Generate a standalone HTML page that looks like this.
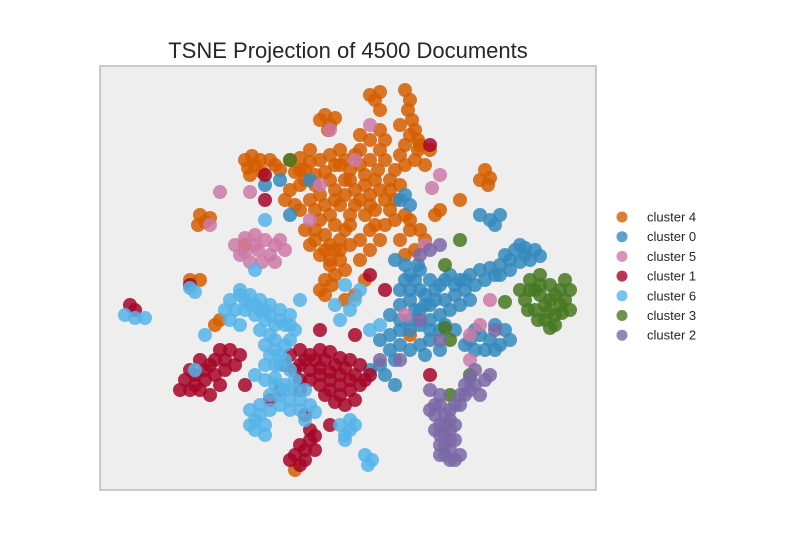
<!DOCTYPE html>
<html><head><meta charset="utf-8"><style>
body{margin:0;background:#fff;}
svg{display:block;font-family:"Liberation Sans",sans-serif;}
</style></head><body>
<svg id="chart" width="800" height="550" viewBox="0 0 800 550">
<rect x="0" y="0" width="800" height="550" fill="#fff"/>
<text x="348" y="58" text-anchor="middle" font-size="22" fill="#262626">TSNE Projection of 4500 Documents</text>
<rect x="100" y="66" width="496" height="424" fill="#eeeeee" stroke="#bcbcbc" stroke-width="1.5"/>
<g id="points"></g>
<g id="legend"></g>
</svg>
<script>
const clusterNames = ["cluster 4","cluster 0","cluster 5","cluster 1","cluster 6","cluster 3","cluster 2"];
const clusterColors = ["#D55E00","#348ABD","#CC79A7","#A60628","#56B4E9","#467821","#7A68A6"];
const cluster4 = [[270,29],[280,26],[275,34],[310,34],[308,44],[312,54],[315,64],[318,74],[310,69],[305,79],[220,54],[225,49],[230,59],[235,52],[228,64],[145,94],[155,99],[150,109],[162,106],[148,102],[190,94],[200,92],[210,96],[220,94],[205,104],[195,106],[215,109],[225,106],[235,99],[230,89],[240,84],[245,94],[250,104],[260,99],[255,89],[265,109],[270,94],[280,84],[285,94],[278,104],[290,114],[295,104],[300,89],[305,99],[315,94],[325,99],[330,84],[320,79],[245,114],[255,124],[265,119],[260,134],[270,129],[280,124],[285,134],[275,144],[290,144],[295,154],[285,159],[265,149],[255,139],[245,129],[210,134],[220,129],[225,139],[215,144],[230,149],[220,154],[235,159],[225,169],[215,174],[230,179],[220,189],[235,184],[240,174],[210,179],[200,119],[190,124],[185,134],[195,139],[100,149],[105,156],[98,159],[110,152],[230,199],[225,214],[220,224],[235,209],[300,174],[310,164],[320,164],[325,174],[315,184],[305,189],[335,149],[340,144],[385,104],[390,112],[380,114],[388,119],[360,134],[145,179],[260,194],[270,184],[280,174],[245,204],[255,229],[265,214],[245,234],[90,214],[100,214],[120,254],[115,259],[280,64],[285,74],[270,74],[260,69],[195,404],[310,269],
[280,44],[300,59],[290,124],[300,119],[270,139],[250,149],[240,139],[235,124],[230,114],[205,114],[215,119],[250,114],[260,84],[240,99],[210,84],[200,104],[180,104],[170,94],[175,99],[275,114],[295,134],[305,149],[310,154],[215,164],[230,194],[240,194],[250,159],[245,164],[160,94],[152,90],[225,229],[232,219],[305,24],[318,84],[235,134],[275,159],[270,164],[260,174],[250,179],[240,184],[225,184],[205,164],[200,144]];
const cluster0 = [[295,194],[305,199],[310,209],[320,204],[330,214],[340,219],[350,209],[360,214],[370,209],[380,204],[390,202],[400,199],[405,189],[415,184],[425,182],[435,184],[430,194],[420,196],[410,204],[400,209],[420,179],[380,149],[390,154],[395,159],[400,149],[320,224],[310,234],[300,239],[315,244],[325,239],[335,234],[330,254],[340,249],[350,244],[360,239],[365,224],[355,229],[370,234],[345,259],[320,259],[310,254],[300,254],[290,249],[355,264],[370,274],[380,269],[390,274],[400,279],[410,274],[405,264],[395,259],[385,284],[290,269],[300,279],[310,284],[320,279],[330,274],[340,284],[325,289],[280,274],[290,284],[295,294],[300,134],[310,139],[305,129],[280,299],[285,309],[210,114],[165,119],[190,149],[295,319],[270,304],[180,114],[318,199],
[345,214],[355,219],[365,214],[335,224],[345,234],[325,229],[315,214],[305,214],[300,224],[310,224],[330,239],[320,244],[375,219],[385,214],[395,209],[365,279],[375,284],[395,284],[375,264],[310,264],[300,264],[330,264],[340,264],[440,190],[410,194],[425,189]];
const cluster5 = [[135,179],[145,172],[155,169],[165,174],[175,179],[185,184],[170,189],[158,184],[145,186],[150,196],[162,196],[175,196],[140,189],[155,179],[180,174],[150,126],[120,126],[230,64],[255,94],[270,59],[340,109],[332,122],[210,154],[325,179],[305,249],[390,234],[380,259],[370,269],[370,294],[110,159],[220,119]];
const cluster1 = [[85,314],[90,324],[95,309],[105,304],[115,294],[120,284],[130,284],[140,289],[135,299],[125,304],[115,309],[105,314],[100,324],[110,329],[120,319],[90,304],[190,289],[200,284],[210,289],[220,284],[230,286],[240,292],[250,294],[260,299],[200,299],[210,304],[220,302],[230,306],[240,309],[250,314],[230,324],[240,329],[220,319],[260,319],[255,334],[245,339],[270,309],[200,314],[195,389],[200,379],[210,374],[215,384],[205,394],[200,399],[210,364],[30,239],[35,244],[90,219],[165,109],[330,79],[270,209],[285,224],[220,264],[230,359],[205,349],[170,334],[180,324],[330,309],[145,319],[165,134],[255,269],
[205,294],[215,294],[225,294],[235,299],[245,302],[255,309],[265,314],[210,314],[220,309],[230,314],[240,319],[250,324],[225,329],[235,336],[200,324],[195,304],[185,299],[100,294],[110,299],[125,294],[95,319],[80,324],[205,384],[190,394],[215,370]];
const cluster6 = [[25,249],[35,252],[45,252],[90,222],[95,226],[125,244],[130,234],[140,224],[150,229],[160,234],[170,239],[180,244],[190,249],[145,244],[155,249],[165,254],[175,259],[185,259],[195,264],[140,259],[130,254],[160,264],[170,269],[200,234],[165,279],[170,289],[175,284],[185,279],[190,274],[155,309],[165,314],[175,312],[185,319],[195,314],[205,324],[200,334],[190,334],[180,329],[170,329],[200,344],[210,339],[215,346],[150,344],[160,339],[170,344],[155,354],[165,359],[150,359],[160,349],[240,359],[250,364],[245,369],[255,359],[265,389],[272,394],[268,399],[240,254],[250,244],[255,234],[260,224],[245,219],[235,239],[280,259],[270,264],[165,154],[155,204],[105,269],[95,304],[180,299],[140,229],
[150,239],[160,244],[170,249],[180,254],[190,259],[145,234],[155,239],[135,244],[165,244],[175,274],[180,289],[185,294],[175,299],[165,299],[190,304],[175,319],[185,324],[195,324],[190,344],[180,339],[165,369],[155,364],[205,354],[245,374],[250,354]];
const cluster3 = [[430,214],[440,209],[450,219],[460,224],[465,234],[470,244],[455,249],[445,254],[435,244],[425,234],[440,229],[450,234],[460,239],[445,239],[435,224],[455,259],[465,214],[440,219],[448,246],[190,94],[360,174],[345,199],[350,274],[370,309],[350,329],[405,236],[345,262],
[430,224],[455,229],[462,247],[438,254],[450,262],[420,224],[470,224],[428,244]];
const cluster2 = [[340,329],[340,339],[345,349],[350,354],[340,359],[345,369],[340,379],[350,384],[355,374],[335,364],[330,344],[355,339],[360,329],[365,319],[370,312],[380,329],[385,314],[390,309],[375,304],[330,324],[350,394],[360,389],[345,389],[355,359],[330,184],[340,179],[320,189],[320,254],[300,294],[280,294],[340,274],[395,264],
[345,359],[335,349],[350,364],[340,369],[350,374],[345,379],[335,339],[360,339],[350,344],[340,389],[355,394],[375,319],[365,329],[370,324]];
const clusterData = [cluster4,cluster0,cluster5,cluster1,cluster6,cluster3,cluster2];

const xDomain=[0,496], yDomain=[0,424];
function xScale(v){return 100 + (v-xDomain[0])/(xDomain[1]-xDomain[0])*496;}
function yScale(v){return 66 + (v-yDomain[0])/(yDomain[1]-yDomain[0])*424;}
const NS="http://www.w3.org/2000/svg";
const pg=document.getElementById('points');
clusterData.forEach((pts,ci)=>{
  const g=document.createElementNS(NS,'g');
  
  
  pts.forEach(p=>{
    const c=document.createElementNS(NS,'circle');
    
    
    c.setAttribute('cx',xScale(p[0]));
    c.setAttribute('cy',yScale(p[1]));
    c.setAttribute('r',7);
    c.setAttribute('fill',clusterColors[ci]);
    c.setAttribute('fill-opacity',0.85);
    g.appendChild(c);
  });
  pg.appendChild(g);
});
const lg=document.getElementById('legend');
clusterNames.forEach((n,i)=>{
  const y=217+i*19.7;
  const c=document.createElementNS(NS,'circle');
  
  
  c.setAttribute('cx',622);c.setAttribute('cy',y);c.setAttribute('r',5.5);
  c.setAttribute('fill',clusterColors[i]);c.setAttribute('fill-opacity',0.8);
  lg.appendChild(c);
  const t=document.createElementNS(NS,'text');
  
  
  t.setAttribute('x',647);t.setAttribute('y',y+4.5);
  t.setAttribute('font-size','13');t.setAttribute('fill','#262626');
  t.textContent=n;
  lg.appendChild(t);
});
</script>
</body></html>
